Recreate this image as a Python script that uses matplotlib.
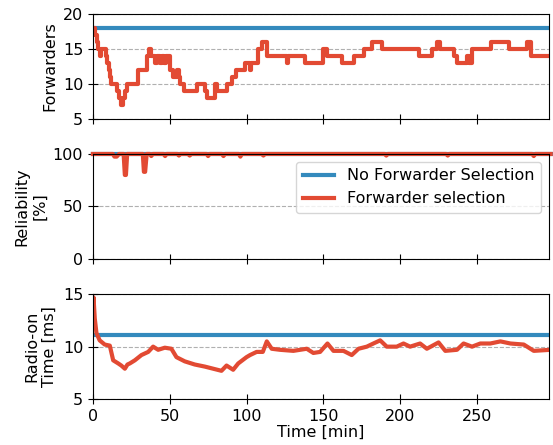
import numpy as np
import matplotlib
matplotlib.use('Agg')
import matplotlib.pyplot as plt

''' Data read off the reference '''

# forwarders: step changes (time [min], number of forwarders)
fwd_t = [0, 1.5, 2.5, 3.5, 4.5, 5.5, 8.5, 9.5, 10.5, 11.3, 12, 16, 17.3, 18, 19.3,
         21, 22.5, 29.5, 35.5, 36.5, 37.5, 40.5, 41.5, 43.8, 44.8, 46.5, 47.5,
         50.5, 52, 55, 56, 57, 59, 68, 73, 74, 79.5, 80.5, 87.5, 90.5, 93,
         99, 102, 103, 107.7, 109.9, 113.2, 126.2, 127.3, 138.2, 150.1, 152.3,
         162.1, 169.7, 176.2, 181.7, 188.2, 212.2, 220.9, 224.1, 225.9, 235,
         237.2, 243.7, 244.8, 247, 258.9, 270.9, 282.9, 285, 298]
fwd_v = [18, 17, 16, 15, 14, 15, 14, 13, 12, 11, 10, 9, 8, 7, 8,
         9, 10, 12, 14, 15, 14, 13, 14, 13, 14, 13, 14,
         12, 11, 12, 11, 10, 9, 10, 9, 8, 10, 9, 10, 11,
         12, 13, 12, 13, 15, 16, 14, 13, 14, 13, 15, 14,
         13, 14, 15, 16, 15, 14, 15, 16, 15, 14,
         13, 14, 13, 15, 16, 15, 16, 14, 14]
fwd_baseline = 18

# reliability [%]
rel_t = [0, 13, 14, 15.5, 17, 20, 20.8, 21.5, 22.3, 23, 32.5, 33.2, 34, 35,
         37, 38, 39, 46, 47, 48, 55, 56, 57, 62, 63, 64, 74, 75, 76, 84, 85,
         86, 95, 96, 97, 110, 111, 112, 190, 191, 192, 230, 231, 232, 286, 287,
         288, 298]
rel_v = [100, 100, 97.5, 97.5, 100, 100, 80, 80, 100, 100, 100, 83, 83, 100,
         100, 98, 100, 100, 98, 100, 100, 98.5, 100, 100, 98.5, 100, 100, 98,
         100, 100, 98, 100, 100, 97.5, 100, 100, 98.5, 100, 100, 98.5, 100,
         100, 98.5, 100, 100, 98, 100, 100]
rel_baseline = 100

# radio-on time [ms]
radio_t = [0, 0.4, 1.2, 2.3, 4.4, 7.7, 11, 13.2, 16.5, 18.5, 20.8, 22.5, 24,
           27.3, 31.6, 36, 39.2, 42.5, 46.8, 51.1, 54.4, 59.8, 66.3, 72.9,
           78.3, 83.7, 87, 91.3, 94.6, 100, 102.3, 106.6, 110.6, 113.2, 116.4,
           121.8, 130.5, 139.2, 143.5, 147.9, 152.7, 156.6, 163.1, 168.5,
           172.9, 178.3, 182.6, 187, 191.3, 197.8, 202.2, 206.5, 213, 217.4,
           225, 229.4, 237, 241.3, 246.8, 252.2, 258.7, 265.3, 271.8, 280.5,
           287, 297.9]
radio_v = [12.5, 14.7, 12.7, 11.3, 10.6, 10.2, 10.1, 8.7, 8.4, 8.2, 7.9, 8.3,
           8.4, 8.7, 9.2, 9.5, 10.0, 9.7, 9.9, 9.8, 9.0, 8.6, 8.3, 8.1,
           7.9, 7.7, 8.2, 7.8, 8.4, 9.0, 9.2, 9.5, 9.5, 10.5, 9.8,
           9.7, 9.6, 9.8, 9.4, 9.5, 10.3, 9.6, 9.6, 9.2,
           9.8, 10.0, 10.3, 10.6, 10.0, 10.0, 10.3, 10.0, 10.3, 9.8,
           10.4, 9.6, 9.7, 10.3, 10.0, 10.3, 10.3, 10.5, 10.3, 10.2,
           9.6, 9.7]
radio_baseline = 11.1

BLUE = '#348ABD'
RED = '#E24A33'
LW = 3

plt.rcParams['font.family'] = 'DejaVu Sans'
plt.rcParams['font.size'] = 11.5

fig = plt.figure(figsize=(5.53, 4.45), dpi=100)
ax1 = fig.add_axes([0.168, 0.733, 0.825, 0.236])
ax2 = fig.add_axes([0.168, 0.418, 0.825, 0.236], sharex=ax1)
ax3 = fig.add_axes([0.168, 0.103, 0.825, 0.236], sharex=ax1)

x_end = fwd_t[-1]

# forwarders
ax1.plot([0, x_end], [fwd_baseline, fwd_baseline], color=BLUE, lw=LW)
ax1.plot(fwd_t, fwd_v, color=RED, lw=LW, drawstyle='steps-post')
ax1.set_ylim(5, 20)
ax1.set_yticks([5, 10, 15, 20])
ax1.set_ylabel('Forwarders')

# reliability (line at 100 % sits on the top spine, so don't clip it)
ax2.plot([0, x_end], [rel_baseline, rel_baseline], color=BLUE, lw=LW,
         label='No Forwarder Selection', clip_on=False)
ax2.plot(rel_t, rel_v, color=RED, lw=LW, label='Forwarder selection',
         clip_on=False)
ax2.set_ylim(0, 100)
ax2.set_yticks([0, 50, 100])
ax2.set_ylabel('Reliability\n[%]')
ax2.legend(loc='upper right')

# radio-on time
ax3.plot([0, x_end], [radio_baseline, radio_baseline], color=BLUE, lw=LW)
ax3.plot(radio_t, radio_v, color=RED, lw=LW)
ax3.set_ylim(5, 15)
ax3.set_yticks([5, 10, 15])
ax3.set_ylabel('Radio-on\nTime [ms]')
ax3.set_xlabel('Time [min]', labelpad=1)

ax1.set_xlim(0, 297)
ax1.set_xticks([0, 50, 100, 150, 200, 250])
for ax in (ax1, ax2, ax3):
    ax.grid(axis='y', linestyle='--', color='#b0b0b0', lw=0.8)
    ax.set_axisbelow(True)
    ax.tick_params(direction='inout', length=7)
for ax in (ax1, ax2):
    ax.tick_params(labelbottom=False)

fig.savefig('out.png', dpi=100)
